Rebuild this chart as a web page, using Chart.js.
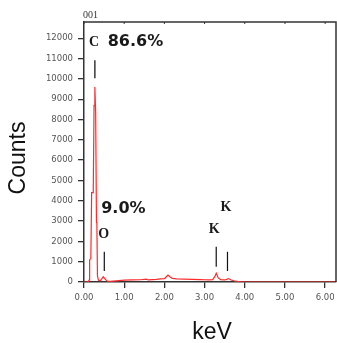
<!DOCTYPE html>
<html lang="en">
<head>
    <meta charset="UTF-8">
    <title>EDS Spectrum</title>
    <script src="https://cdn.jsdelivr.net/npm/chart.js"></script>
    <style>
        body { margin: 0; background: #fff; }
    </style>
</head>
<body>
    <canvas id="edsChart" width="337" height="343"></canvas>

    <script>
        // spectrum
        const energyKeV = [0.00, 0.10, 0.13, 0.14, 0.17, 0.19, 0.23, 0.25, 0.27, 0.29, 0.31, 0.32, 0.335, 0.36, 0.40,
            0.44, 0.48, 0.52, 0.58, 0.65, 0.80, 1.00, 1.20, 1.40, 1.55, 1.60, 1.70, 1.80, 1.90, 2.00, 2.05, 2.09,
            2.14, 2.20, 2.30, 2.50, 2.70, 2.90, 3.00, 3.10, 3.20, 3.25, 3.29, 3.34, 3.40, 3.50, 3.55, 3.60, 3.66,
            3.75, 3.85, 4.00, 5.00, 6.00, 6.27];
        const counts = [0, 0, 100, 1100, 1150, 4400, 4400, 8700, 9600, 8350, 2950, 2900, 300, 80, 60,
            150, 260, 150, 40, 30, 60, 90, 100, 110, 140, 100, 120, 130, 150, 160, 260, 340,
            250, 180, 150, 140, 130, 120, 110, 100, 120, 250, 430, 200, 120, 100, 130, 170, 100,
            50, 20, 0, 0, 0, 0];

        const xTicks = [0, 1, 2, 3, 4, 5, 6];
        const yTicks = [0, 1000, 2000, 3000, 4000, 5000, 6000, 7000, 8000, 9000, 10000, 11000, 12000];

        // element marker lines (keV, top count, bottom count)
        const markerKeV = [0.27, 0.505, 3.29, 3.57];
        const markerTop = [10920, 1490, 1736, 1490];
        const markerBottom = [10035, 540, 752, 541];

        // text labels placed in data units
        const labelText = ['C', '86.6%', '9.0%', 'O', 'K', 'K'];
        const labelKeV = [0.25, 1.28, 0.98, 0.49, 3.24, 3.53];
        const labelCounts = [11800, 11800, 3590, 2360, 2610, 3660];

        const extras = {
            id: 'extras',
            afterDraw(chart) {
                const ctx = chart.ctx;
                const xs = chart.scales.x, ys = chart.scales.y;
                const a = chart.chartArea;
                ctx.save();

                // top and right frame
                ctx.strokeStyle = '#333';
                ctx.lineWidth = 1.5;
                ctx.beginPath();
                ctx.moveTo(a.left, a.top);
                ctx.lineTo(a.right, a.top);
                ctx.lineTo(a.right, a.bottom);
                ctx.stroke();
                ctx.lineWidth = 1;
                xTicks.forEach(v => {
                    const px = xs.getPixelForValue(v);
                    ctx.beginPath();
                    ctx.moveTo(px, a.top);
                    ctx.lineTo(px, a.top + 2);
                    ctx.stroke();
                });

                // marker lines
                markerKeV.forEach((e, i) => {
                    const px = xs.getPixelForValue(e);
                    ctx.strokeStyle = i === 0 ? '#444' : '#111';
                    ctx.lineWidth = i === 0 ? 1.6 : 1.2;
                    ctx.beginPath();
                    ctx.moveTo(px, ys.getPixelForValue(markerTop[i]));
                    ctx.lineTo(px, ys.getPixelForValue(markerBottom[i]));
                    ctx.stroke();
                });

                // labels
                ctx.textAlign = 'center';
                ctx.textBaseline = 'middle';
                ctx.fillStyle = '#1a1a1a';
                labelText.forEach((t, i) => {
                    ctx.font = t.includes('%') ? 'bold 16px "DejaVu Sans"' : 'bold 14px "Liberation Serif"';
                    ctx.fillText(t, xs.getPixelForValue(labelKeV[i]), ys.getPixelForValue(labelCounts[i]));
                });

                // sample id
                ctx.textAlign = 'left';
                ctx.font = '10px "Liberation Serif"';
                ctx.fillStyle = '#333';
                ctx.fillText('001', a.left - 1, 15.5);

                // axis titles
                ctx.fillStyle = '#111';
                ctx.font = '23px "Liberation Sans"';
                ctx.textAlign = 'center';
                ctx.fillText('keV', (a.left + a.right) / 2 + 2, 333);
                ctx.translate(19, 158);
                ctx.rotate(-Math.PI / 2);
                ctx.fillText('Counts', 0, 0);
                ctx.restore();
            }
        };

        new Chart(document.getElementById('edsChart'), {
            type: 'line',
            data: {
                datasets: [{
                    data: energyKeV.map((e, i) => ({ x: e, y: counts[i] })),
                    borderColor: '#ff2b2b',
                    borderWidth: 1.2,
                    pointRadius: 0,
                    tension: 0,
                    fill: false
                }]
            },
            options: {
                responsive: false,
                animation: false,
                layout: { padding: { top: 22, right: 1, left: 0, bottom: 0 } },
                plugins: {
                    legend: { display: false },
                    tooltip: { enabled: false }
                },
                scales: {
                    x: {
                        type: 'linear',
                        min: 0,
                        max: 6.27,
                        afterFit(s) { s.height = 61; s.paddingLeft = 0; s.paddingRight = 0; },
                        afterBuildTicks(s) { s.ticks = xTicks.map(v => ({ value: v })); },
                        ticks: {
                            padding: 5,
                            color: '#555',
                            font: { family: 'DejaVu Sans', size: 8.5 },
                            callback: v => v.toFixed(2),
                            maxRotation: 0
                        },
                        grid: { drawOnChartArea: false, tickLength: 6, color: '#333', lineWidth: 1.3 },
                        border: { color: '#333', width: 1.5 }
                    },
                    y: {
                        min: 0,
                        max: 12800,
                        afterFit(s) { s.width = 84; s.paddingTop = 0; s.paddingBottom = 0; },
                        afterBuildTicks(s) { s.ticks = yTicks.map(v => ({ value: v })); },
                        ticks: {
                            padding: 5,
                            color: '#555',
                            font: { family: 'DejaVu Sans', size: 8.5 },
                            callback: v => String(v)
                        },
                        grid: { drawOnChartArea: false, tickLength: 6, color: '#333', lineWidth: 1.3 },
                        border: { color: '#333', width: 1.5 }
                    }
                }
            },
            plugins: [extras]
        });
    </script>
</body>
</html>
